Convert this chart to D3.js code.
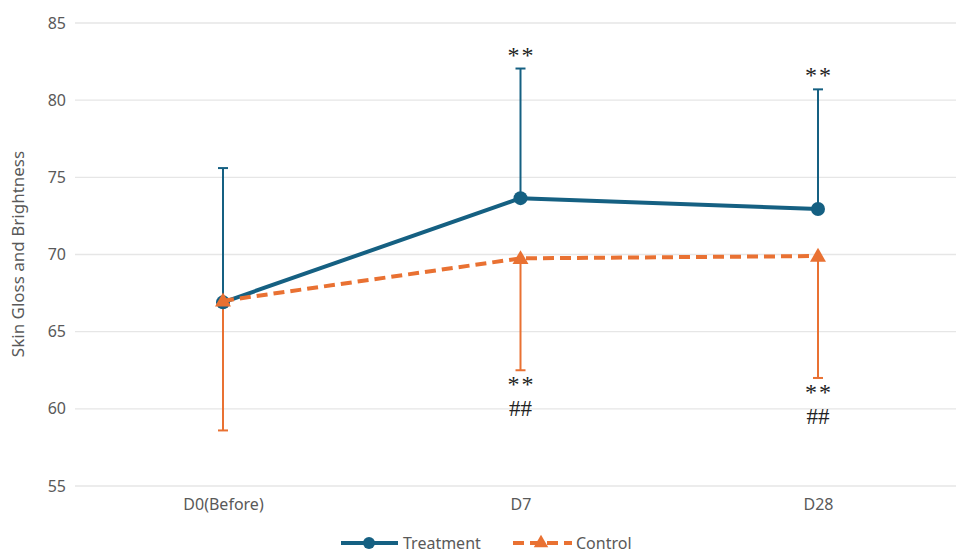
<!DOCTYPE html>
<html>
<head>
<meta charset="utf-8">
<script src="https://cdn.jsdelivr.net/npm/d3@7"></script>
<style>
  html, body { margin: 0; padding: 0; background: #fff; }
  svg { display: block; }
</style>
</head>
<body>
<svg id="chart" width="956" height="554"></svg>
<script>
// Time points
const categories = ["D0(Before)", "D7", "D28"];
// Treatment group: means and upper error (SD)
const treatmentMean = [66.9, 73.65, 72.95];
const treatmentUpper = [75.6, 82.05, 80.7];
// Control group: means and lower error (SD)
const controlMean = [67.0, 69.75, 69.9];
const controlLower = [58.6, 62.5, 62.0];
// Significance marks
const treatmentMarks = ["", "**", "**"];
const controlMarksVsBaseline = ["", "**", "**"];
const controlMarksVsTreatment = ["", "##", "##"];
// Axis ticks
const yTicks = [55, 60, 65, 70, 75, 80, 85];
const seriesNames = ["Treatment", "Control"];

const W = 956, H = 554;
const blue = "#156082", orange = "#E97132";
const sansFont = "'Noto Sans', 'Open Sans', sans-serif";
const serifFont = "'Liberation Serif', 'DejaVu Serif', serif";

const svg = d3.select("#chart");

const x = d3.scalePoint().domain(categories).range([223, 818]);
const y = d3.scaleLinear().domain([55, 85]).range([486, 23]);

// Horizontal gridlines
svg.append("g")
  .selectAll("line")
  .data(yTicks)
  .join("line")
  .attr("x1", 75).attr("x2", W)
  .attr("y1", d => y(d)).attr("y2", d => y(d))
  .attr("stroke", "#e6e6e6").attr("stroke-width", 1.3);

// Y axis labels
const yAxis = svg.append("g")
  .attr("transform", "translate(66,0)")
  .call(d3.axisLeft(y).tickValues(yTicks).tickSize(0).tickPadding(0));
yAxis.select(".domain").remove();
yAxis.selectAll("text")
  .attr("fill", "#595959").attr("font-size", 16).attr("font-family", sansFont);

// X axis labels
const xAxis = svg.append("g")
  .attr("transform", "translate(0,486)")
  .call(d3.axisBottom(x).tickSize(0).tickPadding(13));
xAxis.select(".domain").remove();
xAxis.selectAll("text")
  .attr("fill", "#595959").attr("font-size", 16).attr("font-family", sansFont);

// Y axis title
svg.append("text")
  .attr("transform", "translate(24," + 254 + ") rotate(-90)")
  .attr("text-anchor", "middle")
  .attr("fill", "#595959").attr("font-size", 17).attr("font-family", sansFont)
  .text("Skin Gloss and Brightness");

// Error bars: treatment upward, control downward
function errorBars(means, ends, color) {
  const g = svg.append("g");
  g.selectAll("line.stem")
    .data(categories)
    .join("line")
    .attr("class", "stem")
    .attr("x1", d => x(d)).attr("x2", d => x(d))
    .attr("y1", (d, i) => y(means[i])).attr("y2", (d, i) => y(ends[i]))
    .attr("stroke", color).attr("stroke-width", 2);
  g.selectAll("line.cap")
    .data(categories)
    .join("line")
    .attr("class", "cap")
    .attr("x1", d => x(d) - 5).attr("x2", d => x(d) + 5)
    .attr("y1", (d, i) => y(ends[i])).attr("y2", (d, i) => y(ends[i]))
    .attr("stroke", color).attr("stroke-width", 2);
}
errorBars(controlMean, controlLower, orange);
errorBars(treatmentMean, treatmentUpper, blue);

// Series lines
const line = d3.line().x(d => x(d[0])).y(d => y(d[1]));
const tData = categories.map((c, i) => [c, treatmentMean[i]]);
const cData = categories.map((c, i) => [c, controlMean[i]]);

svg.append("path").datum(tData).attr("d", line)
  .attr("fill", "none").attr("stroke", blue).attr("stroke-width", 4)
  .attr("stroke-linejoin", "round").attr("stroke-linecap", "round");
svg.selectAll("circle.t").data(tData).join("circle")
  .attr("class", "t")
  .attr("cx", d => x(d[0])).attr("cy", d => y(d[1])).attr("r", 7)
  .attr("fill", blue);

svg.append("path").datum(cData).attr("d", line)
  .attr("fill", "none").attr("stroke", orange).attr("stroke-width", 4)
  .attr("stroke-dasharray", "11,6");
const tri = d3.symbol().type(d3.symbolTriangle).size(110);
svg.selectAll("path.c").data(cData).join("path")
  .attr("class", "c")
  .attr("d", tri)
  .attr("transform", d => "translate(" + x(d[0]) + "," + (y(d[1]) + 1) + ")")
  .attr("fill", orange);

// Significance annotations
function marks(labels, ends, dy, size, spacing) {
  svg.append("g").selectAll("text")
    .data(categories)
    .join("text")
    .attr("x", d => x(d) + spacing / 2)
    .attr("y", (d, i) => y(ends[i]) + dy)
    .attr("text-anchor", "middle")
    .attr("letter-spacing", spacing)
    .attr("fill", "#222").attr("font-size", size).attr("font-family", serifFont)
    .text((d, i) => labels[i]);
}
marks(treatmentMarks, treatmentUpper, -6, 24, 2);
marks(controlMarksVsBaseline, controlLower, 22, 24, 2);
marks(controlMarksVsTreatment, controlLower, 46, 23, 0);

// Legend
const legend = svg.append("g").attr("transform", "translate(0,543)");
legend.append("line").attr("x1", 341).attr("x2", 398).attr("y1", 0).attr("y2", 0)
  .attr("stroke", blue).attr("stroke-width", 4);
legend.append("circle").attr("cx", 369).attr("cy", 0).attr("r", 6).attr("fill", blue);
legend.append("text").attr("x", 403).attr("y", 6)
  .attr("fill", "#595959").attr("font-size", 16).attr("font-family", sansFont)
  .text(seriesNames[0]);
legend.append("line").attr("x1", 513).attr("x2", 572).attr("y1", 0).attr("y2", 0)
  .attr("stroke", orange).attr("stroke-width", 4).attr("stroke-dasharray", "11,6");
legend.append("path").attr("d", d3.symbol().type(d3.symbolTriangle).size(90))
  .attr("transform", "translate(541,0)").attr("fill", orange);
legend.append("text").attr("x", 576).attr("y", 6)
  .attr("fill", "#595959").attr("font-size", 16).attr("font-family", sansFont)
  .text(seriesNames[1]);
</script>
</body>
</html>
